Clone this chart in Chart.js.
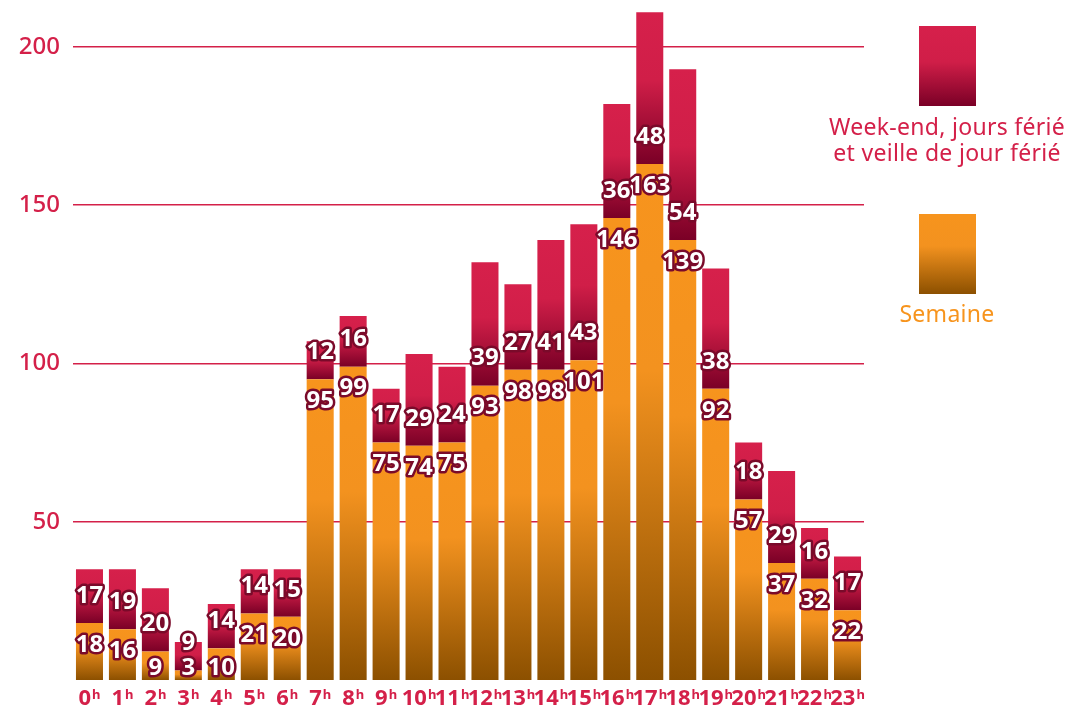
<!DOCTYPE html>
<html>
<head>
<meta charset="utf-8">
<script src="https://cdn.jsdelivr.net/npm/chart.js@4"></script>
<style>
  body { margin: 0; background: #fff; font-family: "Noto Sans", sans-serif; }
  #wrap { position: relative; width: 1073px; height: 707px; }
  .leg-box { position: absolute; left: 919px; width: 57px; height: 80px; }
  .leg-txt { position: absolute; left: 790px; width: 314px; text-align: center; font-size: 23px; line-height: 26px; letter-spacing: 0.3px; }
</style>
</head>
<body>
<div id="wrap">
  <canvas id="c" width="1073" height="707"></canvas>
  <div class="leg-box" style="top:26px;background:linear-gradient(#D6204B 0%,#D01E48 45%,#7A0026 100%)"></div>
  <div class="leg-txt" style="top:113px;color:#D42049">Week-end, jours férié<br>et veille de jour férié</div>
  <div class="leg-box" style="top:214px;background:linear-gradient(#F7941D 0%,#F3921F 40%,#8C5000 100%)"></div>
  <div class="leg-txt" style="top:300px;color:#F7941D">Semaine</div>
</div>
<script>
const hours = ['0','1','2','3','4','5','6','7','8','9','10','11','12','13','14','15','16','17','18','19','20','21','22','23'];
const semaine = [18,16,9,3,10,21,20,95,99,75,74,75,93,98,98,101,146,163,139,92,57,37,32,22];
const weekend = [17,19,20,9,14,14,15,12,16,17,29,24,39,27,41,43,36,48,54,38,18,29,16,17];
const yTicks = [50,100,150,200];

const CRIMSON = '#D42049';

// gradient for each segment, top to bottom
function segGradient(stops){
  return ctx => {
    const chart = ctx.chart;
    if (!chart.chartArea || ctx.type !== 'data') return stops[0][1];
    const y = chart.scales.y;
    const i = ctx.dataIndex;
    let lo = 0, hi = semaine[i];
    if (ctx.datasetIndex === 1){ lo = semaine[i]; hi = semaine[i] + weekend[i]; }
    const top = y.getPixelForValue(hi), bot = y.getPixelForValue(lo);
    const g = chart.ctx.createLinearGradient(0, top, 0, bot);
    stops.forEach(s => g.addColorStop(s[0], s[1]));
    return g;
  };
}

const valueLabels = {
  id: 'valueLabels',
  afterDatasetsDraw(chart){
    const c = chart.ctx;
    c.save();
    c.font = 'bold 24px "Noto Sans"';
    c.textAlign = 'center';
    c.textBaseline = 'middle';
    c.lineJoin = 'round';
    c.lineWidth = 5;
    c.strokeStyle = '#7A0A2A';
    c.fillStyle = '#fff';
    chart.data.datasets.forEach((ds, di) => {
      chart.getDatasetMeta(di).data.forEach((el, i) => {
        let y;
        if (di === 0) y = Math.min(el.y + 22, chart.chartArea.bottom - 12);
        else y = el.base - 27;
        const t = String(ds.data[i]);
        c.strokeText(t, el.x, y);
        c.fillText(t, el.x, y);
      });
    });
    c.restore();
  }
};

const hourLabels = {
  id: 'hourLabels',
  afterDraw(chart){
    const c = chart.ctx, xs = chart.scales.x;
    c.save();
    c.fillStyle = CRIMSON;
    c.textBaseline = 'alphabetic';
    c.textAlign = 'left';
    hours.forEach((h, i) => {
      const x = xs.getPixelForValue(i);
      c.font = 'bold 22px "Noto Sans"';
      const w1 = c.measureText(h).width;
      c.font = 'bold 13px "Noto Sans"';
      const w2 = c.measureText('h').width;
      const x0 = x - (w1 + w2 + 1) / 2;
      c.font = 'bold 22px "Noto Sans"';
      c.fillText(h, x0, 705);
      c.font = 'bold 13px "Noto Sans"';
      c.fillText('h', x0 + w1 + 1, 699);
    });
    c.restore();
  }
};

new Chart(document.getElementById('c'), {
  type: 'bar',
  data: {
    labels: hours.map(h => h + 'h'),
    datasets: [
      { label: 'Semaine', data: semaine,
        backgroundColor: segGradient([[0,'#F7941D'],[0.4,'#F3921F'],[1,'#8C5000']]) },
      { label: 'Week-end, jours férié et veille de jour férié', data: weekend,
        backgroundColor: segGradient([[0,'#D6204B'],[0.45,'#D01E48'],[1,'#7A0026']]) }
    ]
  },
  options: {
    responsive: false,
    animation: false,
    layout: { padding: { top: 9, right: 209, bottom: 27, left: 0 } },
    datasets: { bar: { categoryPercentage: 1, barPercentage: 0.82 } },
    plugins: { legend: { display: false }, tooltip: { enabled: false } },
    scales: {
      x: {
        stacked: true,
        afterFit(s){ s.height = 0; s.paddingLeft = 0; s.paddingRight = 0; },
        grid: { display: false },
        border: { display: false },
        ticks: { display: false }
      },
      y: {
        stacked: true,
        min: 0, max: 212,
        afterFit(s){ s.width = 73; s.paddingTop = 0; s.paddingBottom = 0; },
        afterBuildTicks(s){ s.ticks = yTicks.map(v => ({ value: v })); },
        grid: { color: CRIMSON, lineWidth: 1.5, drawTicks: false },
        border: { display: false },
        ticks: { color: CRIMSON, padding: 13, font: { family: 'Noto Sans', size: 24, weight: '500' } }
      }
    }
  },
  plugins: [valueLabels, hourLabels]
});
</script>
</body>
</html>
